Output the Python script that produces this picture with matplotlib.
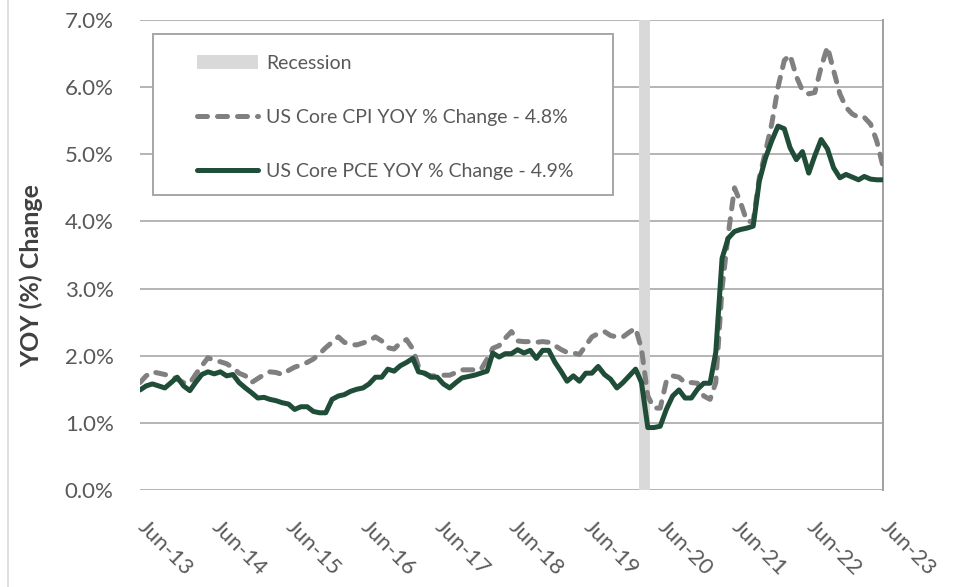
import matplotlib
matplotlib.use("Agg")
import matplotlib.pyplot as plt
import matplotlib.transforms as mtransforms
from matplotlib.lines import Line2D
from matplotlib.patches import Rectangle
from matplotlib.ticker import FuncFormatter
import pandas as pd

plt.rcParams["font.family"] = ["Lato", "DejaVu Sans"]

# ---- data (monthly, Jun-13 .. Jun-23) ------------------------------------
start_month = "2013-06-01"
end_month = "2023-06-01"

core_cpi = [
    1.60, 1.70, 1.76, 1.74, 1.72, 1.70, 1.65,
    1.60, 1.59, 1.72, 1.85, 1.97, 1.93, 1.91, 1.88, 1.82, 1.74, 1.70, 1.60,
    1.66, 1.72, 1.76, 1.75, 1.72, 1.78, 1.83, 1.86, 1.90, 1.95, 2.03, 2.12,
    2.20, 2.28, 2.20, 2.17, 2.16, 2.19, 2.22, 2.28, 2.22, 2.12, 2.10, 2.19,
    2.24, 2.10, 1.84, 1.73, 1.70, 1.70, 1.71, 1.71, 1.75, 1.79, 1.79, 1.79,
    1.79, 1.95, 2.11, 2.15, 2.26, 2.36, 2.22, 2.21, 2.21, 2.20, 2.21, 2.20,
    2.15, 2.09, 2.05, 2.04, 2.02, 2.15, 2.28, 2.33, 2.36, 2.30, 2.28, 2.28,
    2.35, 2.41, 2.10, 1.40, 1.22, 1.22, 1.62, 1.70, 1.68, 1.60, 1.60, 1.59,
    1.40, 1.35, 1.60, 3.00, 3.80, 4.50, 4.28, 4.00, 4.00, 4.65, 5.05, 5.45,
    6.00, 6.40, 6.48, 6.16, 5.95, 5.90, 5.92, 6.30, 6.60, 6.25, 5.90, 5.70,
    5.60, 5.55, 5.55, 5.45, 5.20, 4.82,
]

core_pce = [
    1.49, 1.55, 1.58, 1.55, 1.52, 1.60, 1.68,
    1.55, 1.48, 1.60, 1.72, 1.76, 1.73, 1.76, 1.70, 1.72, 1.60, 1.52, 1.45,
    1.37, 1.38, 1.35, 1.33, 1.30, 1.28, 1.20, 1.24, 1.24, 1.17, 1.15, 1.15,
    1.35, 1.40, 1.42, 1.47, 1.50, 1.52, 1.58, 1.68, 1.68, 1.80, 1.77, 1.85,
    1.90, 1.96, 1.76, 1.74, 1.68, 1.68, 1.58, 1.52, 1.60, 1.67, 1.69, 1.71,
    1.74, 1.77, 2.04, 1.98, 2.03, 2.03, 2.09, 2.04, 2.08, 1.96, 2.08, 2.08,
    1.90, 1.76, 1.62, 1.70, 1.62, 1.74, 1.74, 1.84, 1.72, 1.65, 1.52, 1.60,
    1.70, 1.80, 1.60, 0.93, 0.93, 0.95, 1.20, 1.40, 1.49, 1.37, 1.37, 1.50,
    1.59, 1.59, 2.05, 3.45, 3.75, 3.85, 3.88, 3.90, 3.93, 4.60, 4.95, 5.20,
    5.42, 5.38, 5.10, 4.92, 5.04, 4.72, 4.98, 5.22, 5.08, 4.80, 4.65, 4.70,
    4.66, 4.62, 4.67, 4.63, 4.62, 4.62,
]

recession = ("2020-02-19", "2020-04-13")

tick_dates = ["2013-06-01", "2014-06-01", "2015-06-01", "2016-06-01",
              "2017-06-01", "2018-06-01", "2019-06-01", "2020-06-01",
              "2021-06-01", "2022-06-01", "2023-06-01"]
tick_labels = ["Jun-13", "Jun-14", "Jun-15", "Jun-16", "Jun-17", "Jun-18",
               "Jun-19", "Jun-20", "Jun-21", "Jun-22", "Jun-23"]
y_ticks = [0, 1, 2, 3, 4, 5, 6, 7]

cpi_label = "US Core CPI YOY % Change - 4.8%"
pce_label = "US Core PCE YOY % Change - 4.9%"

months = pd.date_range(start_month, end_month, freq="MS")

# ---- figure ----------------------------------------------------------------
W, H = 955, 587
fig = plt.figure(figsize=(W / 100, H / 100), dpi=100)
ax = fig.add_axes([140 / W, 1 - 490 / H, (883 - 140) / W, (490 - 20) / H])

text_color = "#595959"
grid_color = "#b4b4b4"
fs = 16

ax.axvspan(pd.Timestamp(recession[0]), pd.Timestamp(recession[1]),
           color="#d9d9d9", lw=0, zorder=2, label="Recession")
ax.plot(months, core_cpi, color="#808080", lw=3.6, dashes=(2.0, 2.0),
        dash_capstyle="round", solid_capstyle="round", zorder=3, label=cpi_label)
ax.plot(months, core_pce, color="#1f4d37", lw=3.6, solid_capstyle="round",
        solid_joinstyle="round", zorder=4, label=pce_label)

ax.set_xlim(pd.Timestamp(start_month), pd.Timestamp(end_month))
ax.set_ylim(0, 7)
ax.set_yticks(y_ticks)
ax.yaxis.set_major_formatter(FuncFormatter(lambda v, p: f"{v:.1f}%"))
ax.set_xticks([pd.Timestamp(d) for d in tick_dates])
ax.set_xticklabels(tick_labels)

ax.grid(axis="y", color=grid_color, lw=1.4, zorder=1)
ax.set_axisbelow(True)
for side in ["left", "top", "bottom"]:
    ax.spines[side].set_visible(False)
ax.spines["right"].set_color("#a0a0a0")
ax.spines["right"].set_linewidth(1.4)

ax.tick_params(axis="both", length=0, labelsize=fs, colors=text_color)
ax.tick_params(axis="y", pad=19)
ax.tick_params(axis="x", pad=19)
shift = mtransforms.ScaledTranslation(8 / 100, 0, fig.dpi_scale_trans)
for lbl in ax.get_xticklabels():
    lbl.set_rotation(-45)
    lbl.set_horizontalalignment("left")
    lbl.set_verticalalignment("top")
    lbl.set_rotation_mode("anchor")
    lbl.set_transform(lbl.get_transform() + shift)

fig.text(31 / W, 1 - 276 / H, "YOY (%) Change", rotation=90, fontsize=18,
         fontweight="bold", color="#404040", ha="center", va="center")

# legend with a hand-placed frame (drawn inside the axes so it sits under the legend)
ax.add_patch(Rectangle((153 / W, 1 - 195 / H), (613 - 153) / W, (195 - 34) / H,
                       transform=fig.transFigure, facecolor="white",
                       edgecolor="#a6a6a6", lw=1.4, zorder=5, clip_on=False))
leg = ax.legend(loc="upper left", bbox_to_anchor=(187 / W, 1 - 45 / H),
                bbox_transform=fig.transFigure, frameon=False, fontsize=14,
                labelcolor=text_color, handlelength=3.15, handletextpad=0.4,
                labelspacing=1.9, borderpad=0)
leg.set_zorder(6)

# outer chart border line on the left
fig.add_artist(Line2D([8 / W, 8 / W], [0, 1], transform=fig.transFigure,
                      color="#d9d9d9", lw=1.2))

fig.savefig("out.png", dpi=100, facecolor="white")
